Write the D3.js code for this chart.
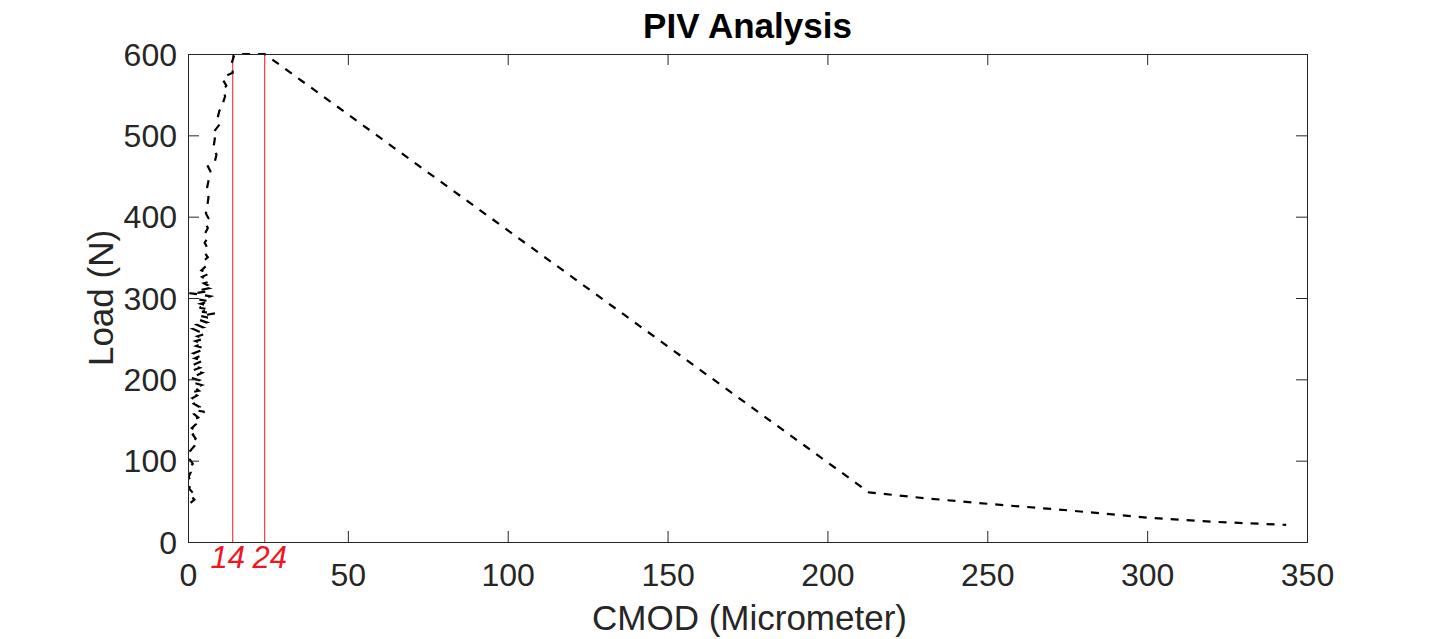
<!DOCTYPE html>
<html>
<head>
<meta charset="utf-8">
<script src="https://cdn.jsdelivr.net/npm/d3@7/dist/d3.min.js"></script>
<style>
  html, body { margin: 0; padding: 0; background: #fff; }
  svg { display: block; font-family: "Liberation Sans", Arial, Helvetica, sans-serif; }
</style>
</head>
<body>
<svg id="chart" width="1445" height="639"></svg>
<script>
// ---- data ----
const cmod = [
  0.8, 2.0, 0.6, 1.6, 0.3, 1.2, 0.2, 0.9, 0.4, 1.5, 0.5, 1.3, 0.7, 2.0, 1.1, 2.4,
  1.5, 2.8, 1.2, 2.5, 1.6, 3.2, 2.0, 5.2, 2.4, 3.6, 1.8, 3.0, 1.4, 2.8,
  1.0, 3.4, 2.0, 4.2, 1.6, 3.4, 0.8, 2.8, 4.4, 1.6, 3.6, 1.2, 3.0, 4.8, 2.2, 4.0,
  1.8, 3.8, 5.2, 2.6, 4.4, 2.4, 5.0, 3.0, 5.4, 3.2, 1.6, 4.6, 2.8, 5.8, 3.6, 6.2,
  3.8, 8.4, 4.4, 6.6, 3.6, 5.8, 4.0, 6.8, 3.6, 5.6, 7.0, 4.4, 0.4, 2.4, 5.8, 4.0,
  6.4, 4.8, 6.0, 5.0, 6.6,
  4.4, 6.6, 4.2, 5.8, 5.0, 6.2, 5.2, 6.0, 5.2, 6.2, 5.4, 6.2, 5.4, 6.4, 5.6, 6.0,
  6.4, 6.0, 6.6, 7.0, 6.2, 8.4, 8.9, 8.0, 8.4, 7.6, 10.0, 9.3, 9.8, 10.8, 11.6, 11.0,
  12.0, 10.8, 11.8, 14.0, 13.6, 14.4, 15.5, 19.0, 24.0,
  213.0, 230.0, 250.0, 275.0, 300.0, 320.0, 343.5
];
const load = [
  48, 52, 58, 60, 66, 72, 80, 86, 92, 96, 102, 108, 112, 118, 122, 127,
  132, 136, 140, 145, 150, 153, 157, 160, 162, 166, 170, 173, 177, 180,
  184, 186, 190, 193, 196, 199, 202, 205, 208, 211, 214, 217, 220, 223, 226, 229,
  232, 235, 238, 241, 244, 247, 250, 253, 256, 259, 262, 264, 267, 270, 273, 276,
  278, 281, 283, 286, 288, 291, 293, 296, 298, 300, 302, 304, 306, 306, 308, 310,
  312, 314, 316, 318, 320,
  326, 330, 334, 340, 346, 350, 356, 362, 368, 374, 380, 386, 392, 398, 404, 412,
  424, 436, 448, 456, 462, 468, 476, 486, 496, 502, 514, 522, 530, 538, 548, 556,
  561, 569, 573, 577, 588, 598, 600, 600, 600,
  61, 54, 47, 39, 30, 25, 21
];
const markers = [14, 24];
const xTicks = [0, 50, 100, 150, 200, 250, 300, 350];
const yTicks = [0, 100, 200, 300, 400, 500, 600];
const titleText = "PIV Analysis";
const xLabel = "CMOD (Micrometer)";
const yLabel = "Load (N)";

// ---- layout ----
const L = 188, R = 1307, T = 54, B = 542;
const svg = d3.select("#chart");
svg.append("rect").attr("width", 1445).attr("height", 639).attr("fill", "#fff");

const x = d3.scaleLinear().domain([0, 350]).range([L, R]);
const y = d3.scaleLinear().domain([0, 600]).range([B, T]);

const axisColor = "#262626";
const tickLen = 11;

svg.append("defs").append("clipPath").attr("id", "clip")
  .append("rect").attr("x", L).attr("y", T - 2).attr("width", R - L).attr("height", B - T + 2);

// marker lines
svg.append("g").selectAll("line").data(markers).join("line")
  .attr("x1", d => x(d)).attr("x2", d => x(d))
  .attr("y1", B).attr("y2", T)
  .attr("stroke", "#e8141e").attr("stroke-width", 1);

// data line
const pts = cmod.map((c, i) => [c, load[i]]);
svg.append("path")
  .datum(pts)
  .attr("clip-path", "url(#clip)")
  .attr("d", d3.line().x(d => x(d[0])).y(d => y(d[1])))
  .attr("fill", "none")
  .attr("stroke", "#000")
  .attr("stroke-width", 2.2)
  .attr("stroke-dasharray", "8,8");

// axes
const gx = svg.append("g").attr("transform", `translate(0,${B})`)
  .call(d3.axisBottom(x).tickValues(xTicks).tickSize(-tickLen).tickFormat(d3.format("d")));
const gy = svg.append("g").attr("transform", `translate(${L},0)`)
  .call(d3.axisLeft(y).tickValues(yTicks).tickSize(-tickLen).tickFormat(d3.format("d")));
const gt = svg.append("g").attr("transform", `translate(0,${T})`)
  .call(d3.axisTop(x).tickValues(xTicks).tickSize(-tickLen).tickFormat(""));
const gr = svg.append("g").attr("transform", `translate(${R},0)`)
  .call(d3.axisRight(y).tickValues(yTicks).tickSize(-tickLen).tickFormat(""));

[gx, gy, gt, gr].forEach(g => {
  g.select(".domain").attr("stroke", axisColor).attr("stroke-width", 1);
  g.selectAll(".tick line").attr("stroke", axisColor).attr("stroke-width", 1);
  g.selectAll(".tick text").attr("fill", axisColor)
    .style("font-size", "32px")
    .style("font-family", '"Liberation Sans", Arial, sans-serif');
});
gx.selectAll(".tick text").attr("y", 44).attr("dy", "0");
gy.selectAll(".tick text").attr("x", -11).attr("dy", "0.35em");

// marker labels
svg.append("g").selectAll("text").data(markers).join("text")
  .attr("x", (d, i) => x(d) + (i === 0 ? -5 : 5))
  .attr("y", 568)
  .attr("text-anchor", "middle")
  .attr("fill", "#f0151f")
  .style("font-size", "31px")
  .style("font-style", "italic")
  .text(d => d);

// title
svg.append("text")
  .attr("x", (L + R) / 2).attr("y", 38)
  .attr("text-anchor", "middle")
  .attr("fill", "#000")
  .style("font-size", "35px").style("font-weight", "bold")
  .text(titleText);

// x label
svg.append("text")
  .attr("x", (L + R) / 2 + 2).attr("y", 630)
  .attr("text-anchor", "middle")
  .attr("fill", axisColor)
  .style("font-size", "35px")
  .text(xLabel);

// y label
svg.append("text")
  .attr("transform", `translate(113,${(T + B) / 2}) rotate(-90)`)
  .attr("text-anchor", "middle")
  .attr("fill", axisColor)
  .style("font-size", "35px")
  .text(yLabel);
</script>
</body>
</html>
